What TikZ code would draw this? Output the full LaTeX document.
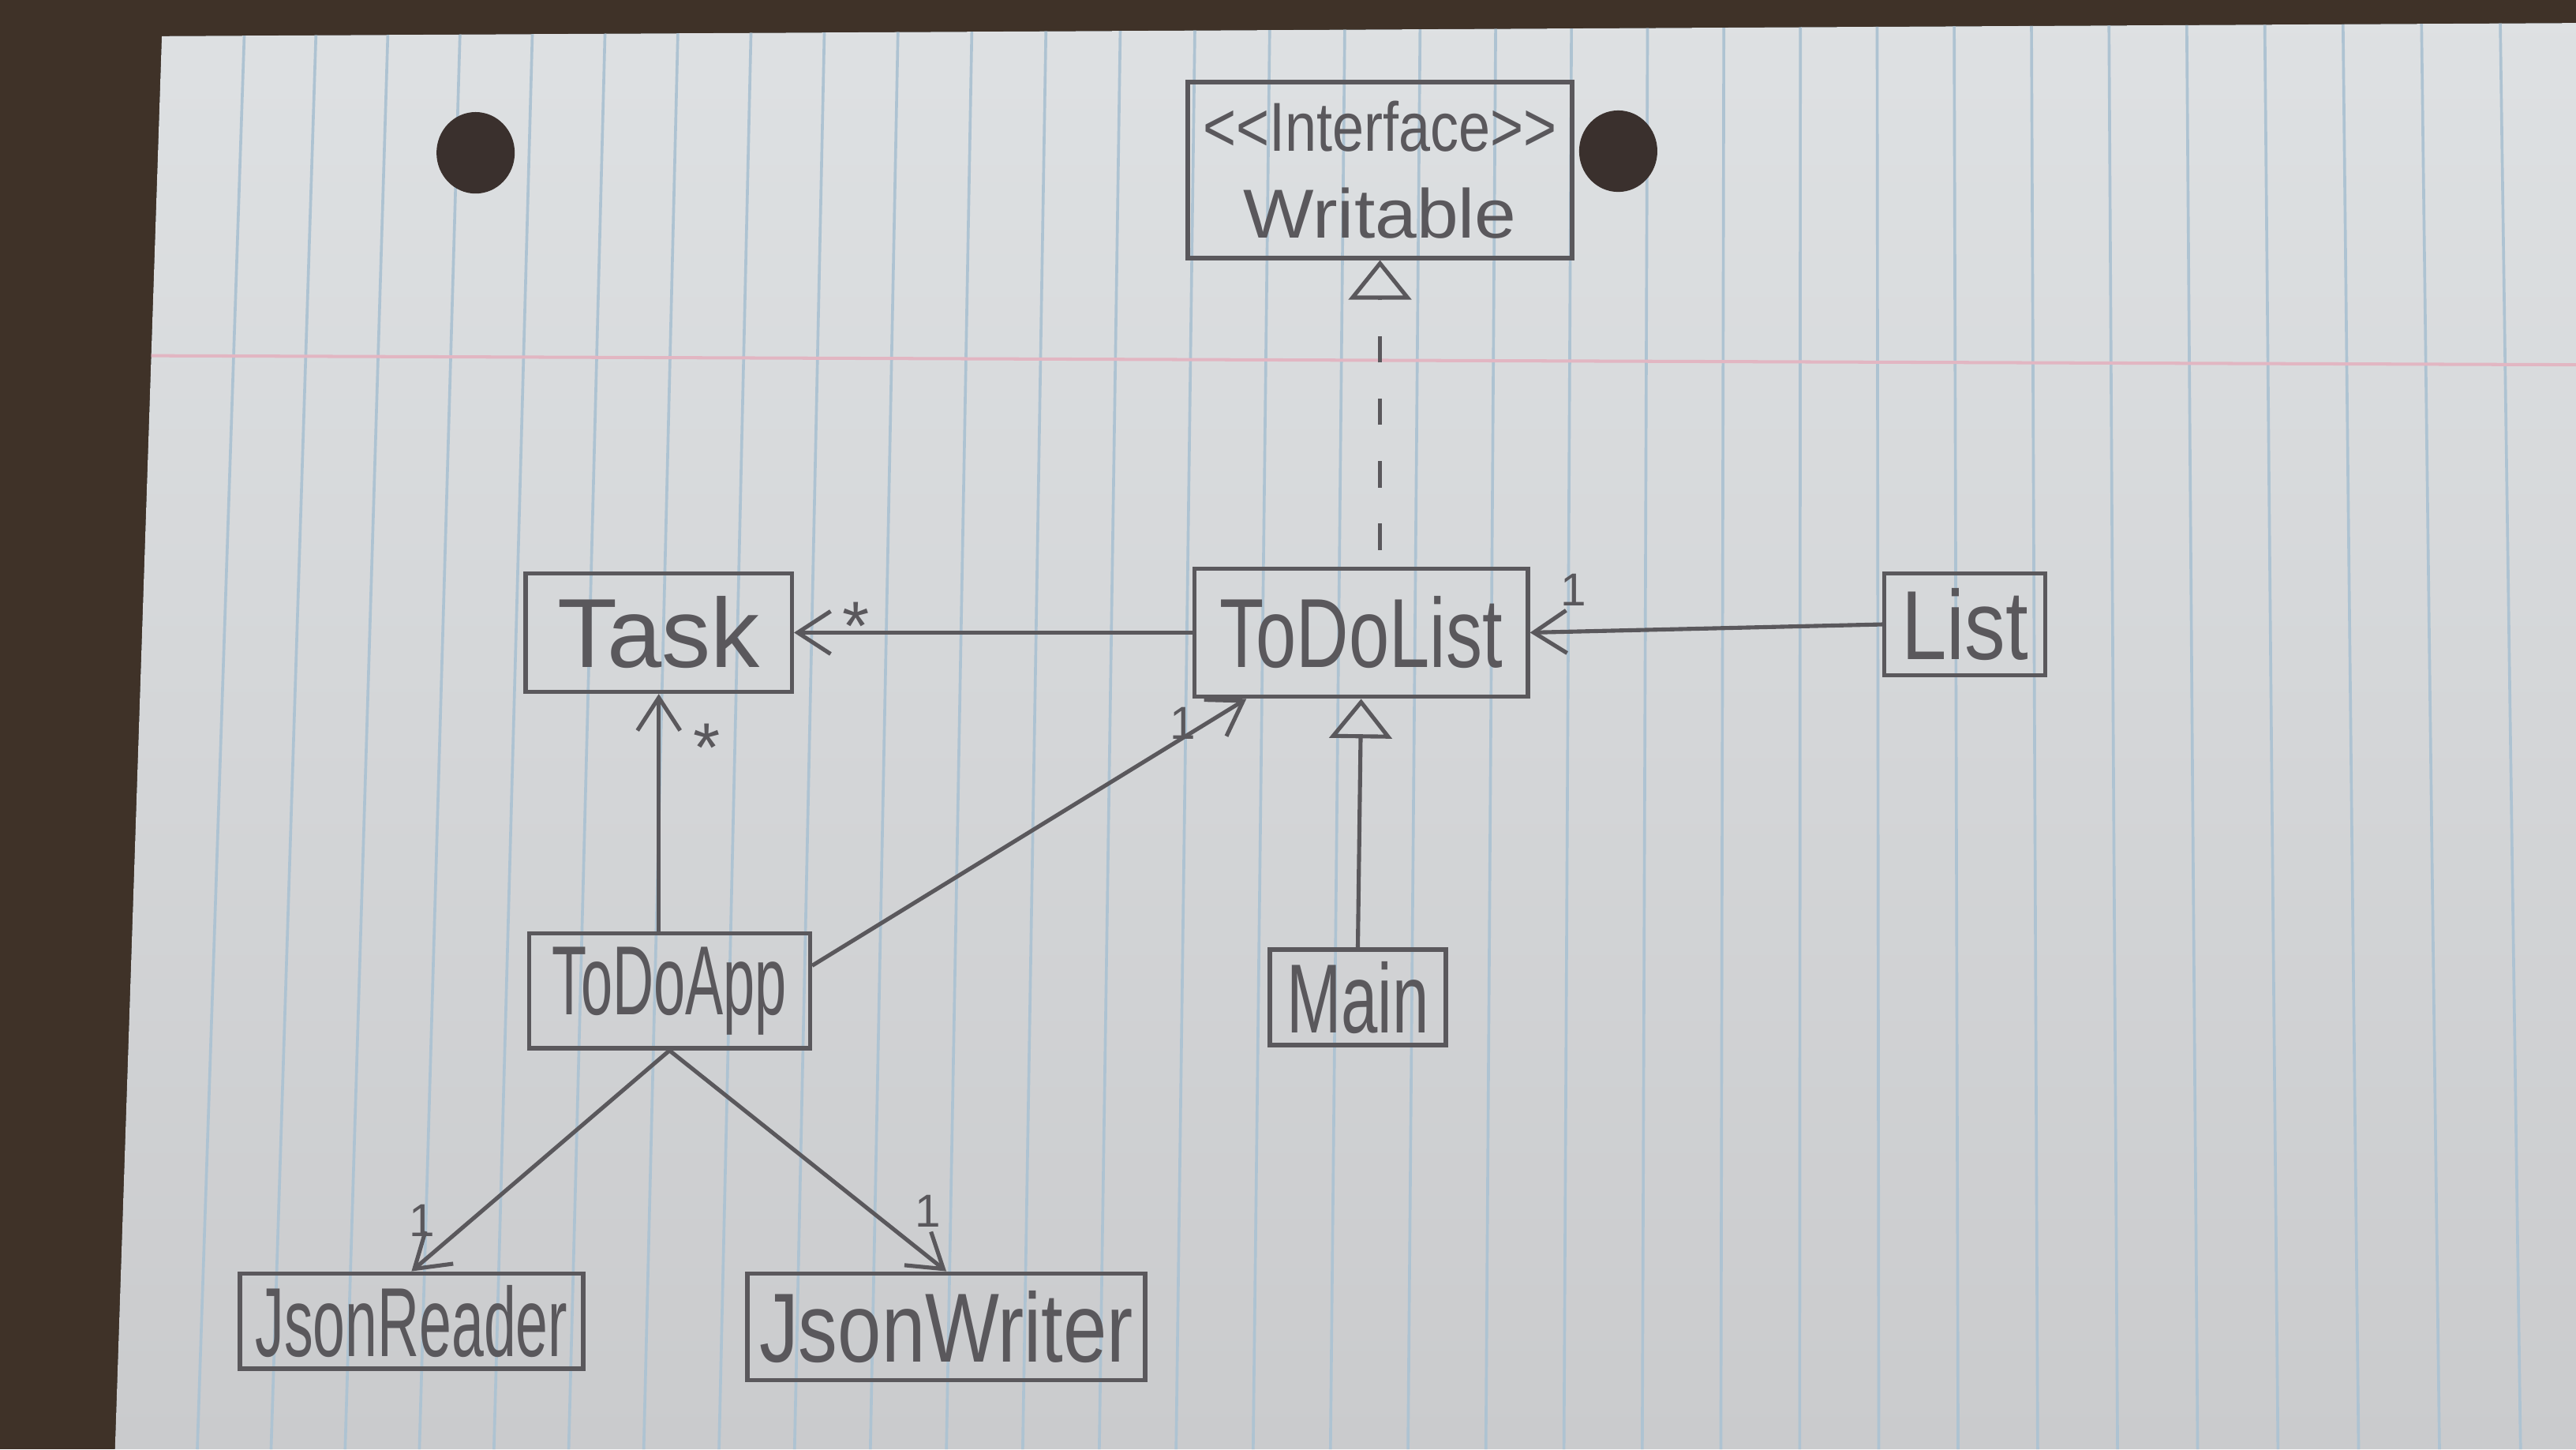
\documentclass[tikz,border=0pt]{standalone}
\usepackage{fontspec}
\usepackage{graphicx}
\usepackage{xcolor}
\usetikzlibrary{arrows.meta}

\newfontfamily\handfont{Liberation Sans}
\newcommand{\hw}[2]{\scalebox{#1}[1]{#2}}

\definecolor{desk}{HTML}{3F3228}
\definecolor{paper}{HTML}{DEE1E3}
\definecolor{paperlow}{HTML}{CACBCD}
\definecolor{rule}{HTML}{AEC3D2}
\definecolor{margin}{HTML}{E2B6C2}
\definecolor{hole}{HTML}{3A302D}
\definecolor{pencil}{HTML}{5A585C}

\tikzset{
  cls/.style={draw=pencil, line width=0.75pt, text=pencil, inner sep=0pt,
    font=\handfont\fontsize{17}{20}\selectfont},
  mult/.style={text=pencil, inner sep=0pt, font=\handfont\fontsize{8}{8}\selectfont},
  assoc/.style={draw=pencil, line width=0.7pt, -{Straight Barb[length=2mm,width=2.6mm]}},
  realize/.style={draw=pencil, line width=0.7pt, dash pattern=on 1.6mm off 2.2mm,
    -{Triangle[open,length=2.4mm,width=3.8mm]}},
  generalize/.style={draw=pencil, line width=0.7pt, -{Triangle[open,length=2.4mm,width=3.8mm]}}
}

\begin{document}
\begin{tikzpicture}
    \useasboundingbox (0,0) rectangle (15.68,8.82);

    % Desk and sheet of paper
    \fill[desk] (0,0) rectangle (15.68,8.82);
    \begin{scope}
        \clip (0.985,8.60) -- (15.68,8.68) -- (15.68,0) -- (0.70,0) -- cycle;
        \fill[top color=paper, bottom color=paperlow] (0,0) rectangle (15.68,8.82);
        \foreach \i in {0,...,31} {
            \pgfmathsetmacro{\xt}{1.494+0.435*\i+0.00075*\i*\i}
            \pgfmathsetmacro{\xb}{\xt-0.293+0.0305*(\xt-1.494)}
            \draw[rule, line width=0.5pt] (\xt,8.82) -- (\xb,0);
        }
        \draw[margin, line width=0.55pt] (0.70,6.656) -- (15.68,6.60);
    \end{scope}

    % Punched holes
    \fill[hole] (2.895,7.89) ellipse [x radius=0.238, y radius=0.248];
    \fill[hole] (9.85,7.90) ellipse [x radius=0.238, y radius=0.248];

    % Classes
    \node[cls, minimum width=2.34cm, minimum height=1.07cm, align=center,
          font=\handfont\fontsize{12}{15}\selectfont] (writable) at (8.40,7.785)
          {\hw{0.82}{{<}{<}Interface{>}{>}}\\\hw{1.08}{Writable}};
    \node[cls, minimum width=1.62cm, minimum height=0.72cm] (task) at (4.01,4.97) {Task};
    \node[cls, minimum width=2.03cm, minimum height=0.78cm] (todolist) at (8.285,4.97) {\hw{0.74}{ToDoList}};
    \node[cls, minimum width=0.98cm, minimum height=0.62cm] (list) at (11.96,5.02) {\hw{0.83}{List}};
    \node[cls, minimum width=1.71cm, minimum height=0.70cm] (todoapp) at (4.075,2.79) {\hw{0.58}{ToDoApp}};
    \node[cls, minimum width=1.07cm, minimum height=0.58cm] (main) at (8.265,2.75) {\hw{0.67}{Main}};
    \node[cls, minimum width=2.09cm, minimum height=0.58cm] (jsonreader) at (2.505,0.78) {\hw{0.59}{JsonReader}};
    \node[cls, minimum width=2.42cm, minimum height=0.65cm] (jsonwriter) at (5.76,0.745) {\hw{0.80}{JsonWriter}};

    % Relations
    \draw[realize, shorten <=1mm] (todolist.north -| writable.south) -- (writable.south);
    \draw[generalize] (main.north) -- (todolist.south);
    \draw[assoc] (todolist.west) -- (task.east);
    \draw[assoc] (list.west) -- (todolist.east);
    \draw[assoc] (task.south |- todoapp.north) -- (task.south);
    \draw[assoc] (todoapp.10) -- (todolist.210);
    \draw[assoc] (todoapp.south) -- (jsonreader.north);
    \draw[assoc] (todoapp.south) -- (jsonwriter.north);

    % Multiplicities
    \node[mult, font=\handfont\fontsize{12}{12}\selectfont] (m-task-a) at (5.21,5.01) {*};
    \node[mult, font=\handfont\fontsize{12}{12}\selectfont] (m-task-b) at (4.30,4.27) {*};
    \node[mult] (m-list) at (9.58,5.23) {1};
    \node[mult] (m-todolist) at (7.20,4.42) {1};
    \node[mult] (m-reader) at (2.57,1.39) {1};
    \node[mult] (m-writer) at (5.65,1.45) {1};
\end{tikzpicture}
\end{document}
